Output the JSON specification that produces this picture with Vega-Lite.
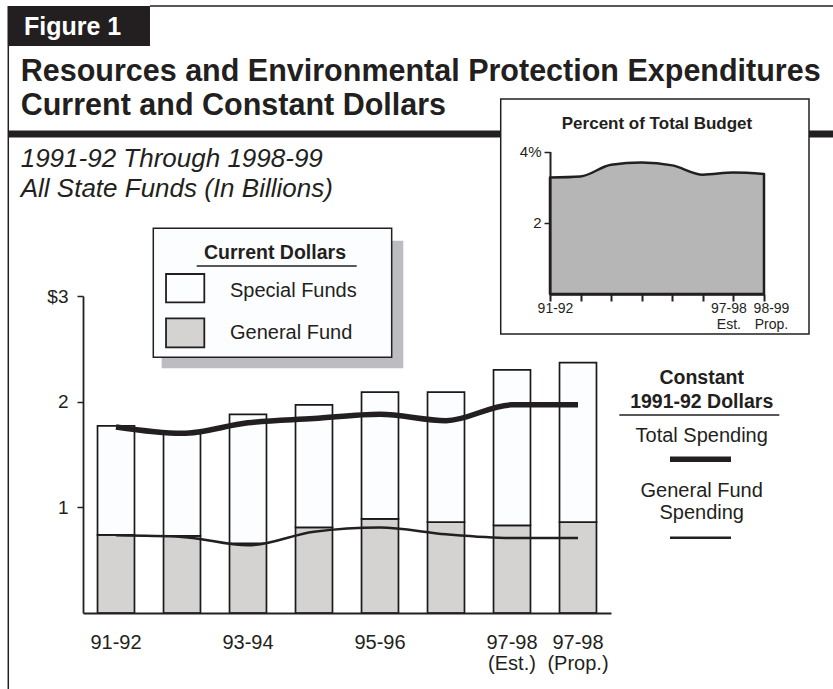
{
  "$schema": "https://vega.github.io/schema/vega-lite/v6.json",
  "width": 528,
  "height": 317,
  "autosize": {"type": "none"},
  "padding": {"left": 83, "top": 296, "right": 222, "bottom": 76},
  "background": "#ffffff",
  "config": {"view": {"stroke": null}, "font": "Liberation Sans"},
  "datasets": {
    "bars": [
      {"year": "91-92", "fund": "General Fund", "amount": 0.74}, {"year": "91-92", "fund": "Special Funds", "amount": 1.03},
      {"year": "92-93", "fund": "General Fund", "amount": 0.73}, {"year": "92-93", "fund": "Special Funds", "amount": 0.97},
      {"year": "93-94", "fund": "General Fund", "amount": 0.66}, {"year": "93-94", "fund": "Special Funds", "amount": 1.22},
      {"year": "94-95", "fund": "General Fund", "amount": 0.81}, {"year": "94-95", "fund": "Special Funds", "amount": 1.16},
      {"year": "95-96", "fund": "General Fund", "amount": 0.89}, {"year": "95-96", "fund": "Special Funds", "amount": 1.20},
      {"year": "96-97", "fund": "General Fund", "amount": 0.86}, {"year": "96-97", "fund": "Special Funds", "amount": 1.23},
      {"year": "97-98", "fund": "General Fund", "amount": 0.83}, {"year": "97-98", "fund": "Special Funds", "amount": 1.47},
      {"year": "98-99", "fund": "General Fund", "amount": 0.86}, {"year": "98-99", "fund": "Special Funds", "amount": 1.51}
    ],
    "constant": [
      {"year": "91-92", "series": "Total Spending", "value": 1.76},
      {"year": "92-93", "series": "Total Spending", "value": 1.70},
      {"year": "93-94", "series": "Total Spending", "value": 1.80},
      {"year": "94-95", "series": "Total Spending", "value": 1.84},
      {"year": "95-96", "series": "Total Spending", "value": 1.88},
      {"year": "96-97", "series": "Total Spending", "value": 1.82},
      {"year": "97-98", "series": "Total Spending", "value": 1.97},
      {"year": "98-99", "series": "Total Spending", "value": 1.97},
      {"year": "91-92", "series": "General Fund Spending", "value": 0.735},
      {"year": "92-93", "series": "General Fund Spending", "value": 0.72},
      {"year": "93-94", "series": "General Fund Spending", "value": 0.64},
      {"year": "94-95", "series": "General Fund Spending", "value": 0.77},
      {"year": "95-96", "series": "General Fund Spending", "value": 0.81},
      {"year": "96-97", "series": "General Fund Spending", "value": 0.745},
      {"year": "97-98", "series": "General Fund Spending", "value": 0.71},
      {"year": "98-99", "series": "General Fund Spending", "value": 0.71}
    ],
    "pct": [
      {"year": "91-92", "pct": 3.27},
      {"year": "92-93", "pct": 3.30},
      {"year": "93-94", "pct": 3.63},
      {"year": "94-95", "pct": 3.69},
      {"year": "95-96", "pct": 3.61},
      {"year": "96-97", "pct": 3.35},
      {"year": "97-98", "pct": 3.41},
      {"year": "98-99", "pct": 3.37}
    ]
  },
  "resolve": {"scale": {"x": "independent", "y": "independent"}},
  "layer": [
    {
      "data": {"values": [{}]},
      "layer": [
        {"mark": {"type": "rect", "fill": "#231f20"},
         "encoding": {"x": {"datum": -0.644, "type": "quantitative", "scale": {"domain": [0.5, 8.5], "nice": false, "zero": false}, "axis": null}, "x2": {"datum": 1.515},
                      "y": {"datum": 5.744, "type": "quantitative", "scale": {"domain": [0, 3], "nice": false, "zero": false}, "axis": null}, "y2": {"datum": 5.366}}},
        {"mark": {"type": "text", "text": "Figure 1", "align": "left", "baseline": "alphabetic", "fontSize": 25, "fontWeight": "bold", "color": "#ffffff"},
         "encoding": {"x": {"datum": -0.394, "type": "quantitative", "axis": null}, "y": {"datum": 5.470, "type": "quantitative", "axis": null}}},
        {"mark": {"type": "rule", "color": "#231f20", "strokeWidth": 1.5},
         "encoding": {"x": {"datum": 1.515, "type": "quantitative", "axis": null}, "x2": {"datum": 11.864}, "y": {"datum": 5.744, "type": "quantitative", "axis": null}}},
        {"mark": {"type": "rule", "color": "#231f20", "strokeWidth": 1.5},
         "encoding": {"x": {"datum": -0.632, "type": "quantitative", "axis": null}, "y": {"datum": 5.366, "type": "quantitative", "axis": null}, "y2": {"datum": -0.719}}},
        {"mark": {"type": "text", "text": ["Resources and Environmental Protection Expenditures", "Current and Constant Dollars"], "align": "left", "baseline": "alphabetic", "fontSize": 30.5, "fontWeight": "bold", "lineHeight": 34.3, "color": "#231f20"},
         "encoding": {"x": {"datum": -0.444, "type": "quantitative", "axis": null}, "y": {"datum": 5.038, "type": "quantitative", "axis": null}}},
        {"mark": {"type": "rule", "color": "#231f20", "strokeWidth": 7},
         "encoding": {"x": {"datum": -0.632, "type": "quantitative", "axis": null}, "x2": {"datum": 11.864}, "y": {"datum": 4.533, "type": "quantitative", "axis": null}}},
        {"mark": {"type": "text", "text": ["1991-92 Through 1998-99", "All State Funds (In Billions)"], "align": "left", "baseline": "alphabetic", "fontSize": 26, "fontStyle": "italic", "lineHeight": 30.6, "color": "#231f20"},
         "encoding": {"x": {"datum": -0.444, "type": "quantitative", "axis": null}, "y": {"datum": 4.224, "type": "quantitative", "axis": null}}},
        {"mark": {"type": "rect", "fill": "#ffffff", "stroke": "#231f20", "strokeWidth": 1.5},
         "encoding": {"x": {"datum": 6.829, "type": "quantitative", "axis": null}, "x2": {"datum": 11.5}, "y": {"datum": 4.864, "type": "quantitative", "axis": null}, "y2": {"datum": 2.640}}},
        {"mark": {"type": "text", "text": "Percent of Total Budget", "align": "center", "baseline": "alphabetic", "fontSize": 17, "fontWeight": "bold", "color": "#231f20"},
         "encoding": {"x": {"datum": 9.197, "type": "quantitative", "axis": null}, "y": {"datum": 4.578, "type": "quantitative", "axis": null}}},
        {"mark": {"type": "rect", "fill": "#bdbdc1"},
         "encoding": {"x": {"datum": 1.692, "type": "quantitative", "axis": null}, "x2": {"datum": 5.353}, "y": {"datum": 3.523, "type": "quantitative", "axis": null}, "y2": {"datum": 2.316}}},
        {"mark": {"type": "rect", "fill": "#fcfdfe", "stroke": "#231f20", "strokeWidth": 1.5},
         "encoding": {"x": {"datum": 1.565, "type": "quantitative", "axis": null}, "x2": {"datum": 5.177}, "y": {"datum": 3.641, "type": "quantitative", "axis": null}, "y2": {"datum": 2.420}}},
        {"mark": {"type": "text", "text": "Current Dollars", "align": "center", "baseline": "alphabetic", "fontSize": 19.5, "fontWeight": "bold", "color": "#231f20"},
         "encoding": {"x": {"datum": 3.409, "type": "quantitative", "axis": null}, "y": {"datum": 3.347, "type": "quantitative", "axis": null}}},
        {"mark": {"type": "rule", "color": "#231f20", "strokeWidth": 1.5},
         "encoding": {"x": {"datum": 2.223, "type": "quantitative", "axis": null}, "x2": {"datum": 4.647}, "y": {"datum": 3.284, "type": "quantitative", "axis": null}}},
        {"mark": {"type": "rect", "stroke": "#231f20", "strokeWidth": 1.8},
         "encoding": {"x": {"datum": 1.758, "type": "quantitative", "axis": null}, "x2": {"datum": 2.338}, "y": {"datum": 3.208, "type": "quantitative", "axis": null}, "y2": {"datum": 2.940},
                      "color": {"datum": "Special Funds", "type": "nominal", "legend": null}}},
        {"mark": {"type": "rect", "stroke": "#231f20", "strokeWidth": 1.8},
         "encoding": {"x": {"datum": 1.758, "type": "quantitative", "axis": null}, "x2": {"datum": 2.338}, "y": {"datum": 2.789, "type": "quantitative", "axis": null}, "y2": {"datum": 2.514},
                      "color": {"datum": "General Fund", "type": "nominal", "legend": null}}},
        {"mark": {"type": "text", "text": "Special Funds", "align": "left", "baseline": "alphabetic", "fontSize": 20, "color": "#231f20"},
         "encoding": {"x": {"datum": 2.727, "type": "quantitative", "axis": null}, "y": {"datum": 2.988, "type": "quantitative", "axis": null}}},
        {"mark": {"type": "text", "text": "General Fund", "align": "left", "baseline": "alphabetic", "fontSize": 20, "color": "#231f20"},
         "encoding": {"x": {"datum": 2.727, "type": "quantitative", "axis": null}, "y": {"datum": 2.590, "type": "quantitative", "axis": null}}},
        {"mark": {"type": "text", "text": ["Constant", "1991-92 Dollars"], "align": "center", "baseline": "alphabetic", "fontSize": 19.5, "fontWeight": "bold", "lineHeight": 24.3, "color": "#231f20"},
         "encoding": {"x": {"datum": 9.874, "type": "quantitative", "axis": null}, "y": {"datum": 2.167, "type": "quantitative", "axis": null}}},
        {"mark": {"type": "rule", "color": "#231f20", "strokeWidth": 1.5},
         "encoding": {"x": {"datum": 8.626, "type": "quantitative", "axis": null}, "x2": {"datum": 11.05}, "y": {"datum": 1.874, "type": "quantitative", "axis": null}}},
        {"mark": {"type": "text", "text": "Total Spending", "align": "center", "baseline": "alphabetic", "fontSize": 20, "color": "#231f20"},
         "encoding": {"x": {"datum": 9.874, "type": "quantitative", "axis": null}, "y": {"datum": 1.621, "type": "quantitative", "axis": null}}},
        {"mark": {"type": "rule", "color": "#231f20", "strokeCap": "butt"},
         "encoding": {"x": {"datum": 9.394, "type": "quantitative", "axis": null}, "x2": {"datum": 10.318}, "y": {"datum": 1.455, "type": "quantitative", "axis": null},
                      "strokeWidth": {"datum": "Total Spending", "type": "ordinal", "legend": null}}},
        {"mark": {"type": "text", "text": ["General Fund", "Spending"], "align": "center", "baseline": "alphabetic", "fontSize": 20, "lineHeight": 22.3, "color": "#231f20"},
         "encoding": {"x": {"datum": 9.874, "type": "quantitative", "axis": null}, "y": {"datum": 1.101, "type": "quantitative", "axis": null}}},
        {"mark": {"type": "rule", "color": "#231f20", "strokeCap": "butt"},
         "encoding": {"x": {"datum": 9.394, "type": "quantitative", "axis": null}, "x2": {"datum": 10.318}, "y": {"datum": 0.713, "type": "quantitative", "axis": null},
                      "strokeWidth": {"datum": "General Fund Spending", "type": "ordinal", "legend": null}}}
      ]
    },
    {
      "layer": [
        {"data": {"name": "bars"},
         "mark": {"type": "bar", "stroke": "#1a1a1a", "strokeWidth": 1.7},
         "encoding": {
           "x": {"field": "year", "type": "ordinal", "scale": {"paddingInner": 0.44, "paddingOuter": 0.22},
                 "axis": {"title": null, "ticks": false, "tickSize": 0, "domainColor": "#231f20", "domainWidth": 1.8, "labelFontSize": 20, "labelColor": "#231f20", "labelPadding": 19, "labelLineHeight": 21, "labelAngle": 0, "labelOverlap": false, "zindex": 1,
                          "labelExpr": "datum.value == '97-98' ? ['97-98', '(Est.)'] : datum.value == '98-99' ? ['97-98', '(Prop.)'] : (datum.value == '91-92' || datum.value == '93-94' || datum.value == '95-96') ? datum.value : ''"}},
           "y": {"field": "amount", "type": "quantitative", "stack": "zero", "scale": {"domain": [0, 3], "nice": false},
                 "axis": {"title": null, "values": [1, 2, 3], "labelExpr": "datum.value == 3 ? '$3' : format(datum.value, 'd')", "grid": false, "tickSize": 6, "tickWidth": 1.5, "tickColor": "#231f20", "domainColor": "#231f20", "domainWidth": 1.8, "labelFontSize": 19, "labelPadding": 9, "labelColor": "#231f20", "zindex": 1}},
           "color": {"field": "fund", "type": "nominal", "scale": {"domain": ["Special Funds", "General Fund"], "range": ["#fcfdfe", "#d4d3d1"]}, "legend": null},
           "order": {"field": "fund", "sort": "ascending"}
         }},
        {"data": {"name": "constant"},
         "mark": {"type": "line", "color": "#231f20", "interpolate": "monotone", "strokeCap": "butt"},
         "encoding": {
           "x": {"field": "year", "type": "ordinal"},
           "y": {"field": "value", "type": "quantitative"},
           "strokeWidth": {"field": "series", "type": "ordinal", "scale": {"domain": ["Total Spending", "General Fund Spending"], "range": [5.5, 2.5]}, "legend": null}
         }}
      ]
    },
    {
      "data": {"name": "pct"},
      "layer": [
        {"mark": {"type": "area", "fill": "#b6b6b6", "stroke": "#231f20", "strokeWidth": 2.5, "interpolate": "monotone", "strokeJoin": "round"},
         "encoding": {
           "x": {"field": "year", "type": "ordinal", "scale": {"type": "point", "padding": 0, "range": [467, 681]},
                 "axis": {"orient": "bottom", "offset": -319, "title": null, "grid": false, "domainColor": "#231f20", "domainWidth": 2.5, "tickColor": "#231f20", "tickWidth": 2, "tickSize": 7, "labelFontSize": 14, "labelLineHeight": 16, "labelPadding": 0, "labelColor": "#231f20", "labelOverlap": false, "labelAngle": 0, "zindex": 1,
                          "labelOffset": {"condition": [{"test": "datum.value == '91-92'", "value": 5}, {"test": "datum.value == '97-98'", "value": -5}, {"test": "datum.value == '98-99'", "value": 7}], "value": 0},
                          "labelExpr": "datum.value == '91-92' ? '91-92' : datum.value == '97-98' ? ['97-98', 'Est.'] : datum.value == '98-99' ? ['98-99', 'Prop.'] : ''"}},
           "y": {"field": "pct", "type": "quantitative", "scale": {"domain": [0, 4], "nice": false, "range": [-2, -144.5]},
                 "axis": {"orient": "left", "offset": -467, "title": null, "grid": false, "values": [2, 4], "labelExpr": "datum.value == 4 ? '4%' : format(datum.value, 'd')", "tickSize": 6, "tickWidth": 1.5, "tickColor": "#231f20", "domainColor": "#231f20", "domainWidth": 2, "labelFontSize": 15, "labelPadding": 3, "labelColor": "#231f20", "zindex": 1}}
         }}
      ]
    }
  ]
}
